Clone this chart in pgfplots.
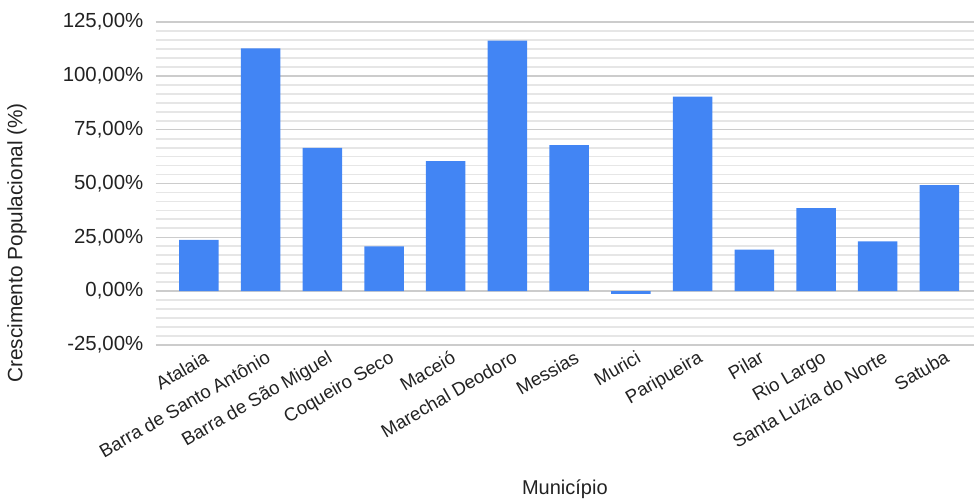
\documentclass[border=0pt]{standalone}
\usepackage{pgfplots}
\pgfplotsset{compat=1.18}
\usepackage{fontspec}
\setmainfont{Liberation Sans}
\definecolor{barblue}{HTML}{4285F4}
\definecolor{majgrid}{HTML}{CCCCCC}
\definecolor{mingrid}{HTML}{E6E6E6}
\definecolor{txt}{HTML}{222222}
\begin{document}
\begin{tikzpicture}
\useasboundingbox (-77.85pt,-76.5pt) rectangle (409.15pt,172.5pt);
\begin{axis}[
    at={(0,0)}, anchor=south west,
    scale only axis,
    width=409.15pt, height=161.5pt,
    ymin=-25, ymax=125,
    xmin=-0.70, xmax=12.56,
    ytick={-25,0,25,50,75,100,125},
    minor y tick num=5,
    ymajorgrids, yminorgrids,
    major grid style={majgrid, line width=0.7pt},
    minor grid style={mingrid, line width=0.9pt},
    major tick length=0pt, minor tick length=0pt,
    axis line style={draw=none},
    extra y ticks={0},
    extra y tick labels={},
    extra y tick style={grid style={black!75, line width=0.9pt}},
    xtick={0,...,12},
    xticklabels={Atalaia, Barra de Santo Antônio, Barra de São Miguel, Coqueiro Seco, Maceió, Marechal Deodoro, Messias, Murici, Paripueira, Pilar, Rio Largo, Santa Luzia do Norte, Satuba},
    xticklabel style={rotate=30, anchor=north east, inner sep=0pt, xshift=0.8pt, yshift=-3pt, font=\fontsize{9.3}{10}\selectfont, text=txt},
    /pgf/number format/assume math mode=true,
    yticklabel={\pgfmathprintnumber[fixed, fixed zerofill, precision=2, use comma]{\tick}\%},
    yticklabel style={anchor=east, inner sep=0pt, xshift=-6pt, font=\fontsize{10.2}{11}\selectfont, text=txt},
    ylabel={Crescimento Populacional (\%)},
    ylabel style={at={(axis description cs:-0.1695,0.316)}, anchor=center, font=\fontsize{10.4}{11}\selectfont, text=txt},
    xlabel={Município},
    xlabel style={at={(axis description cs:0.5,-0.464)}, anchor=base, font=\fontsize{10}{11}\selectfont, text=txt},
    ybar, bar width=0.64,
]
\addplot[fill=barblue, draw=none] coordinates {
    (0,23.8) (1,112.7) (2,66.5) (3,20.8) (4,60.4) (5,116.4) (6,67.8)
    (7,-1.2) (8,90.3) (9,19.3) (10,38.6) (11,23.1) (12,49.3)
};
\end{axis}
\end{tikzpicture}
\end{document}
